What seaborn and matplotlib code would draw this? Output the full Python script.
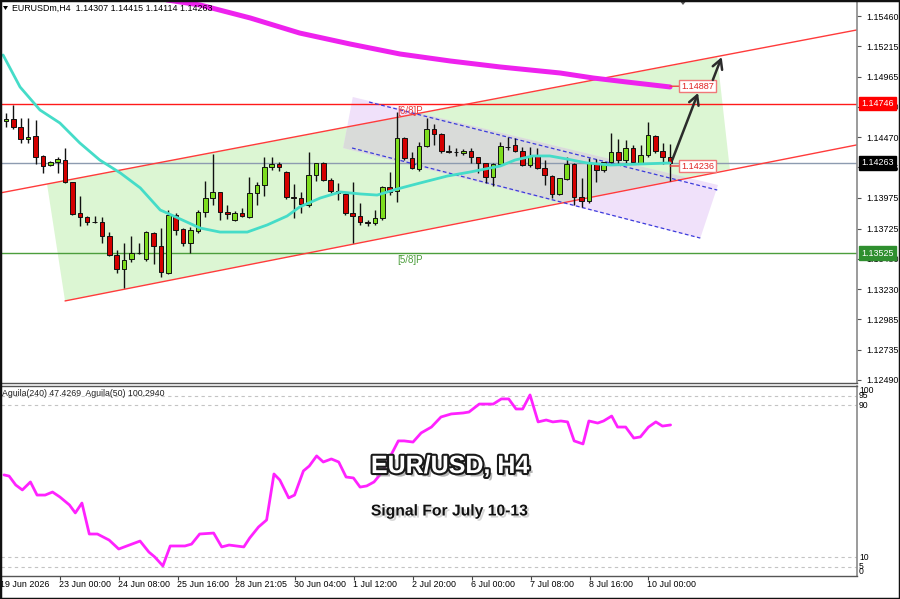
import matplotlib
matplotlib.use("Agg")
import numpy as np
import pandas as pd
import matplotlib.pyplot as plt
import matplotlib.patheffects as pe
import matplotlib.transforms as mtransforms
from matplotlib.patches import Polygon, Rectangle
import seaborn as sns

# ---------------- data ----------------
header_text = "EURUSDm,H4  1.14307 1.14415 1.14114 1.14263"
indicator_text = "Aguila(240) 47.4269  Aguila(50) 100.2940"
title_text = "EUR/USD, H4"
subtitle_text = "Signal For July 10-13"

opens = [1.14603, 1.14620, 1.14554, 1.14456, 1.14481, 1.14318, 1.14244, 1.14269, 1.14285, 1.14106,
         1.13853, 1.13820, 1.13783, 1.13779, 1.13665, 1.13510, 1.13396, 1.13477, 1.13526, 1.13477,
         1.13689, 1.13583, 1.13363, 1.13836, 1.13722, 1.13608, 1.13706, 1.13861, 1.13975, 1.14024,
         1.13861, 1.13795, 1.13853, 1.13820, 1.14016, 1.14081, 1.14228, 1.14252, 1.14187, 1.13983,
         1.13975, 1.13918, 1.14163, 1.14261, 1.14122, 1.14032, 1.14008, 1.13853, 1.13828, 1.13779,
         1.13771, 1.13812, 1.14065, 1.14032, 1.14464, 1.14301, 1.14212, 1.14399, 1.14538, 1.14497,
         1.14358, 1.14352, 1.14342, 1.14358, 1.14310, 1.14261, 1.14146, 1.14252, 1.14391, 1.14407,
         1.14358, 1.14244, 1.14318, 1.14220, 1.14154, 1.14008, 1.14130, 1.14252, 1.13983, 1.13950,
         1.14261, 1.14203, 1.14269, 1.14350, 1.14285, 1.14383, 1.14261, 1.14326, 1.14481, 1.14358,
         1.14307]
highs = [1.14668, 1.14734, 1.14628, 1.14628, 1.14611, 1.14326, 1.14277, 1.14310, 1.14383, 1.14106,
         1.13991, 1.13828, 1.13828, 1.13820, 1.13697, 1.13551, 1.13608, 1.13665, 1.13608, 1.13706,
         1.13697, 1.13730, 1.13877, 1.13853, 1.13730, 1.13738, 1.13877, 1.14114, 1.14334, 1.14024,
         1.13918, 1.13869, 1.13893, 1.14146, 1.14106, 1.14310, 1.14310, 1.14269, 1.14195, 1.14089,
         1.14024, 1.14350, 1.14261, 1.14269, 1.14138, 1.14097, 1.14016, 1.14106, 1.13934, 1.13795,
         1.13877, 1.14073, 1.14187, 1.14677, 1.14473, 1.14350, 1.14432, 1.14628, 1.14579, 1.14505,
         1.14407, 1.14383, 1.14375, 1.14383, 1.14310, 1.14261, 1.14261, 1.14432, 1.14473, 1.14464,
         1.14391, 1.14391, 1.14383, 1.14285, 1.14163, 1.14138, 1.14310, 1.14261, 1.14138, 1.14301,
         1.14293, 1.14269, 1.14505, 1.14456, 1.14448, 1.14407, 1.14407, 1.14595, 1.14489, 1.14424,
         1.14415]
lows = [1.14554, 1.14538, 1.14424, 1.14424, 1.14252, 1.14179, 1.14236, 1.14179, 1.14097, 1.13836,
        1.13746, 1.13755, 1.13771, 1.13608, 1.13502, 1.13363, 1.13241, 1.13453, 1.13518, 1.13461,
        1.13436, 1.13330, 1.13355, 1.13673, 1.13583, 1.13526, 1.13689, 1.13820, 1.13918, 1.13795,
        1.13804, 1.13787, 1.13820, 1.13812, 1.13918, 1.13991, 1.14203, 1.14195, 1.13967, 1.13812,
        1.13853, 1.13902, 1.14114, 1.14114, 1.14016, 1.13959, 1.13836, 1.13608, 1.13755, 1.13746,
        1.13755, 1.13795, 1.13999, 1.13942, 1.14285, 1.14212, 1.14195, 1.14391, 1.14407, 1.14342,
        1.14342, 1.14318, 1.14326, 1.14261, 1.14179, 1.14097, 1.14073, 1.14244, 1.14367, 1.14350,
        1.14236, 1.14228, 1.14212, 1.14081, 1.13975, 1.13999, 1.14122, 1.13918, 1.13902, 1.13934,
        1.14106, 1.14187, 1.14261, 1.14252, 1.14261, 1.14261, 1.14252, 1.14310, 1.14342, 1.14252,
        1.14114]
closes = [1.14620, 1.14554, 1.14456, 1.14473, 1.14310, 1.14236, 1.14269, 1.14293, 1.14106, 1.13844,
          1.13820, 1.13779, 1.13779, 1.13665, 1.13510, 1.13396, 1.13469, 1.13526, 1.13530, 1.13697,
          1.13583, 1.13371, 1.13836, 1.13714, 1.13608, 1.13714, 1.13861, 1.13975, 1.14024, 1.13861,
          1.13844, 1.13853, 1.13828, 1.14016, 1.14081, 1.14228, 1.14252, 1.14228, 1.13983, 1.13975,
          1.13926, 1.14163, 1.14261, 1.14122, 1.14032, 1.14016, 1.13853, 1.13828, 1.13779, 1.13771,
          1.13812, 1.14065, 1.14024, 1.14464, 1.14301, 1.14220, 1.14399, 1.14538, 1.14497, 1.14358,
          1.14350, 1.14350, 1.14358, 1.14310, 1.14261, 1.14146, 1.14252, 1.14399, 1.14395, 1.14358,
          1.14244, 1.14318, 1.14220, 1.14163, 1.14008, 1.14138, 1.14252, 1.13983, 1.13950, 1.14261,
          1.14203, 1.14269, 1.14350, 1.14285, 1.14383, 1.14269, 1.14326, 1.14489, 1.14358, 1.14310,
          1.14263]

ma_fast_idx = [-0.4, 1.9, 4.6, 7.3, 10.0, 12.7, 15.5, 18.2, 20.9, 21.8, 24.5, 26.3, 29.0, 32.7, 35.4,
               38.1, 39.8, 42.6, 45.3, 48.0, 50.3, 53.0, 56.1, 59.8, 62.9, 67.0, 69.0, 71.4, 73.7,
               76.0, 78.7, 81.9, 85.9, 90.0]
ma_fast_val = [1.15142, 1.14881, 1.14693, 1.14587, 1.14424, 1.14285, 1.14179, 1.14057, 1.13877, 1.13853,
               1.13779, 1.13730, 1.13697, 1.13697, 1.13755, 1.13828, 1.13902, 1.13975, 1.14024, 1.14008,
               1.13999, 1.14048, 1.14097, 1.14154, 1.14187, 1.14236, 1.14285, 1.14318, 1.14318, 1.14293,
               1.14261, 1.14244, 1.14252, 1.14261]
ma_slow_idx = [21.8, 26.3, 33.1, 39.8, 46.6, 53.4, 60.2, 67.0, 75.1, 79.6, 84.2, 90.0]
ma_slow_val = [1.15591, 1.15550, 1.15444, 1.15321, 1.15232, 1.15150, 1.15093, 1.15044, 1.14995,
               1.14954, 1.14921, 1.14881]

agu_idx = [-0.6, 0.1, 1.0, 1.9, 3.0, 3.9, 5.0, 6.0, 7.0, 8.3, 9.1, 10.0, 11.0, 12.1, 13.7, 15.0, 16.1,
           17.9, 19.1, 19.9, 21.0, 22.0, 24.0, 24.9, 26.0, 27.9, 29.0, 30.0, 32.0, 32.8, 34.0, 35.1,
           36.1, 36.9, 38.1, 38.9, 40.1, 40.9, 41.9, 42.8, 43.9, 44.9, 45.9, 46.9, 47.8, 48.7, 49.7,
           50.7, 51.8, 53.0, 53.8, 55.0, 56.1, 57.5, 58.8, 60.2, 61.8, 62.6, 64.0, 65.9, 67.0, 68.0,
           69.0, 69.9, 70.9, 72.0, 73.1, 74.0, 75.1, 76.0, 76.9, 78.1, 78.9, 80.1, 80.9, 82.0, 82.8,
           83.9, 85.0, 85.9, 87.0, 88.0, 88.9, 90.0]
agu_val = [53.2, 52.6, 47.9, 45.3, 49.5, 42.6, 42.6, 44.2, 41.6, 37.4, 33.2, 38.4, 22.1, 22.1, 18.9,
           14.2, 15.8, 18.4, 12.6, 10.0, 5.3, 15.8, 15.8, 16.8, 22.1, 22.6, 15.3, 16.3, 15.3, 20.0,
           25.8, 29.5, 53.7, 50.5, 41.1, 42.6, 55.3, 57.9, 63.2, 60.0, 61.6, 60.0, 52.1, 51.6, 46.8,
           47.4, 49.5, 54.2, 62.1, 71.1, 71.1, 70.5, 75.3, 78.4, 83.7, 85.3, 85.8, 86.3, 90.5, 90.5,
           93.2, 93.2, 87.9, 87.9, 95.3, 81.1, 82.1, 81.1, 81.6, 81.1, 71.1, 69.5, 81.6, 80.5, 81.6,
           84.2, 78.4, 78.4, 72.6, 73.2, 78.4, 81.1, 78.9, 79.5]
agu_levels = [95, 90, 10, 5]
agu_tick_labels = ["100", "95", "90", "10", "5", "0"]

price_ticks = [1.15460, 1.15215, 1.14965, 1.14720, 1.14470, 1.14225, 1.13975, 1.13725,
               1.13480, 1.13230, 1.12985, 1.12735, 1.12490]
date_ticks = [-1, 7, 15, 23, 31, 39, 47, 55, 63, 71, 79, 87]
date_labels = ["19 Jun 2026", "23 Jun 00:00", "24 Jun 08:00", "25 Jun 16:00", "28 Jun 21:05",
               "30 Jun 04:00", "1 Jul 12:00", "2 Jul 20:00", "6 Jul 00:00", "7 Jul 08:00",
               "8 Jul 16:00", "10 Jul 00:00"]

level_red = 1.14746
level_green = 1.13525
last_price = 1.14263
murrey_labels = ["[6/8]P", "[5/8]P"]
murrey_bar = 53

up_line_idx = [-0.81, 115.3]
up_line_val = [1.14016, 1.15346]
lo_line_idx = [8.0, 115.3]
lo_line_val = [1.13135, 1.14408]
green_idx = [5.56, 96.4, 98.1, 8.0]
green_val = [1.14089, 1.15125, 1.14212, 1.13135]
lav_idx = [47.0, 96.5, 94.1, 45.7]
lav_val = [1.14799, 1.14081, 1.13648, 1.14383]
dash_up_idx = [49.2, 96.4]
dash_up_val = [1.14758, 1.14040]
dash_lo_idx = [46.9, 94.1]
dash_lo_val = [1.14383, 1.13648]

label_bar = 90
label_prices = [1.14887, 1.14236]
arrow1_from = (90.3, 1.14285)
arrow1_to = (93.8, 1.14832)
arrow2_from = (95.8, 1.14938)
arrow2_to = (97.0, 1.15125)

# ---------------- style ----------------
sns.set_theme(style="white")
plt.rcParams['font.family'] = ['Liberation Sans', 'DejaVu Sans']

W, H = 900, 599
fig = plt.figure(figsize=(9.0, 5.99), dpi=100)
fig.patch.set_facecolor('white')


def fax(x0, y0, x1, y1):
    return [x0 / W, 1 - y1 / H, (x1 - x0) / W, (y1 - y0) / H]


ax = fig.add_axes(fax(1, 2, 857, 383))
ax2 = fig.add_axes(fax(1, 386, 857, 576))
XMIN, XMAX = -0.68, 115.34
for a in (ax, ax2):
    a.set_xlim(XMIN, XMAX)
    a.set_facecolor('white')
    a.grid(False)
ax.set_ylim(1.124653, 1.155743)
ax2.set_ylim(0, 100)

# filled drawing objects
green_poly = Polygon(np.column_stack([green_idx, green_val]), closed=True,
                     fc='#dcf6d3', ec='none', zorder=0.5)
ax.add_patch(green_poly)
lav_xy = np.column_stack([lav_idx, lav_val])
ax.add_patch(Polygon(lav_xy, closed=True, fc='#f0e1fa', ec='none', zorder=0.6))
overlap = Polygon(lav_xy, closed=True, fc='#d9dbd9', ec='none', zorder=0.7)
ax.add_patch(overlap)
overlap.set_clip_path(green_poly)

# horizontal levels and channel lines
ax.axhline(level_red, color='#ff1a1a', lw=1, zorder=1)
ax.axhline(level_green, color='#4c9e3c', lw=1, zorder=1)
ax.axhline(last_price, color='#8d9bb0', lw=1, zorder=1)
ax.plot(up_line_idx, up_line_val, color='#ff3b3b', lw=1, zorder=1.1)
ax.plot(lo_line_idx, lo_line_val, color='#ff3b3b', lw=1, zorder=1.1)
ax.plot(dash_up_idx, dash_up_val, color='#3b3bdc', lw=0.9, ls=(0, (3, 2)), zorder=1.2)
ax.plot(dash_lo_idx, dash_lo_val, color='#3b3bdc', lw=0.9, ls=(0, (3, 2)), zorder=1.2)

ax.text(murrey_bar, level_red, murrey_labels[0], color='#e83a3a', fontsize=7,
        ha='left', va='top', zorder=2,
        transform=mtransforms.offset_copy(ax.transData, fig=fig, x=0, y=-2, units='dots'))
ax.text(murrey_bar, level_green, murrey_labels[1], color='#4c9e3c', fontsize=7,
        ha='left', va='top', zorder=2,
        transform=mtransforms.offset_copy(ax.transData, fig=fig, x=0, y=-2, units='dots'))

# candles
df = pd.DataFrame({'o': opens, 'h': highs, 'l': lows, 'c': closes})
df['i'] = np.arange(len(df))
bull = df['c'] >= df['o']
ax.vlines(df['i'], df['l'], df['h'], color='#111111', lw=1, zorder=3)
body_lo = np.minimum(df['o'], df['c'])
body_h = np.maximum(np.abs(df['c'] - df['o']), 0.000012)
ax.bar(df['i'], body_h, bottom=body_lo, width=0.62,
       color=np.where(bull, '#7ddc1e', '#d40000'), edgecolor='#111111', linewidth=0.7, zorder=3.5)

# moving averages (seaborn)
sns.lineplot(x=ma_fast_idx, y=ma_fast_val, ax=ax, color='#45dcc8', lw=2, sort=False,
             estimator=None, zorder=4)
sns.lineplot(x=ma_slow_idx, y=ma_slow_val, ax=ax, color='#ee22ee', lw=3.6, sort=False,
             estimator=None, zorder=4)

# price labels on chart
for p in label_prices:
    ax.annotate(f"{p:.5f}", xy=(label_bar, p), xytext=(11, 0), textcoords='offset pixels',
                ha='left', va='center', fontsize=6.6, color='#e02424', zorder=8,
                bbox=dict(boxstyle='square,pad=0.18', fc='white', ec='#f07878', lw=1),
                arrowprops=dict(arrowstyle='-', color='#f04040', lw=1, shrinkA=0, shrinkB=0))

# arrows
for a_from, a_to in ((arrow1_from, arrow1_to), (arrow2_from, arrow2_to)):
    ax.annotate('', xy=a_to, xytext=a_from, zorder=9,
                arrowprops=dict(arrowstyle='->,head_length=0.55,head_width=0.3',
                                color='#2b2b2b', lw=1.8, shrinkA=0, shrinkB=0))

# price axis
ax.yaxis.tick_right()
ax.set_yticks(price_ticks)
ax.set_yticklabels([f"{t:.5f}" for t in price_ticks])
ax.tick_params(axis='y', right=True, left=False, length=3, width=0.8, pad=4,
               labelsize=6.4, colors='#555555', labelcolor='black')
ax.tick_params(axis='x', bottom=False, labelbottom=False)
ax.set_ylabel('')
ax.set_xlabel('')
for s in ('left', 'top'):
    ax.spines[s].set_visible(False)
ax.spines['right'].set_color('#8a8a8a')
ax.spines['bottom'].set_color('#555555')
ax.spines['right'].set_linewidth(1.2)
ax.spines['bottom'].set_linewidth(1)

trans_r = mtransforms.blended_transform_factory(ax.transAxes, ax.transData)
for p, fc in ((level_red, '#ff0000'), (last_price, '#000000'), (level_green, '#2f8f2f')):
    ax.text(1.0, p, f"{p:.5f}", ha='left', va='center', fontsize=6.4, color='white',
            transform=mtransforms.offset_copy(trans_r, fig=fig, x=4, y=0, units='dots'),
            bbox=dict(boxstyle='square,pad=0.28', fc=fc, ec=fc), zorder=10, clip_on=False)

# ---------------- indicator panel ----------------
for lv in agu_levels:
    ax2.axhline(lv, color='#c4c4c4', lw=0.8, ls=(0, (3, 3)), zorder=1)
sns.lineplot(x=agu_idx, y=agu_val, ax=ax2, color='#ff22ff', lw=2, sort=False,
             estimator=None, zorder=3)
ax2.set_yticks([])
ax2.set_ylabel('')
ax2.set_xlabel('')
ax2.set_xticks(date_ticks)
ax2.set_xticklabels([])
ax2.tick_params(axis='x', bottom=True, length=3, width=0.8, colors='#444444')
ax2.spines['left'].set_visible(False)
for s in ('top', 'bottom'):
    ax2.spines[s].set_color('#555555')
    ax2.spines[s].set_linewidth(1)
ax2.spines['right'].set_color('#8a8a8a')
ax2.spines['right'].set_linewidth(1.2)

trans_d = mtransforms.blended_transform_factory(ax2.transData, ax2.transAxes)
for t, lab in zip(date_ticks, date_labels):
    ax2.text(t, 0, lab, ha='left', va='top', fontsize=6.4, color='black', clip_on=False,
             transform=mtransforms.offset_copy(trans_d, fig=fig, x=-1, y=-4, units='dots'))

trans_r2 = mtransforms.blended_transform_factory(ax2.transAxes, ax2.transData)
agu_tick_vals = [100, 95, 90, 10, 5, 0]
agu_va = ['top', 'center', 'center', 'center', 'center', 'bottom']
for v, lab, va in zip(agu_tick_vals, agu_tick_labels, agu_va):
    ax2.text(1.0, v, lab, ha='left', va=va, fontsize=6.2, color='black', clip_on=False,
             transform=mtransforms.offset_copy(trans_r2, fig=fig, x=2, y=0, units='dots'))


def ftext(x, y, s, **kw):
    return fig.text(x / W, 1 - y / H, s, **kw)


ftext(2, 394, indicator_text, fontsize=6.3, ha='left', va='center', color='#222222')
ftext(12, 8, header_text, fontsize=6.4, ha='left', va='center', color='black')
fig.add_artist(Polygon([[3 / W, 1 - 6 / H], [8 / W, 1 - 6 / H], [5.5 / W, 1 - 10 / H]],
                       closed=True, transform=fig.transFigure, fc='black', ec='none'))
fig.add_artist(Polygon([[679 / W, 1 - 0 / H], [687 / W, 1 - 0 / H], [683 / W, 1 - 5 / H]],
                       closed=True, transform=fig.transFigure, fc='#555555', ec='none'))

ftext(450, 466, title_text, fontsize=18, fontweight='bold', ha='center', va='center',
      color='white',
      path_effects=[pe.SimplePatchShadow(offset=(2.5, -2.5), shadow_rgbFace='#888888', alpha=0.6),
                    pe.Stroke(linewidth=3, foreground='#1a1a1a'), pe.Normal()])
ftext(450, 511, subtitle_text, fontsize=11.3, fontweight='bold', ha='center', va='center',
      color='#111111',
      path_effects=[pe.SimplePatchShadow(offset=(1.5, -1.5), shadow_rgbFace='#bbbbbb', alpha=0.6),
                    pe.Normal()])

fig.add_artist(Rectangle((0, 0), 1, 1, transform=fig.transFigure, fill=False,
                         ec='#111111', lw=2.5))

fig.savefig('out.png', dpi=100, facecolor='white')
